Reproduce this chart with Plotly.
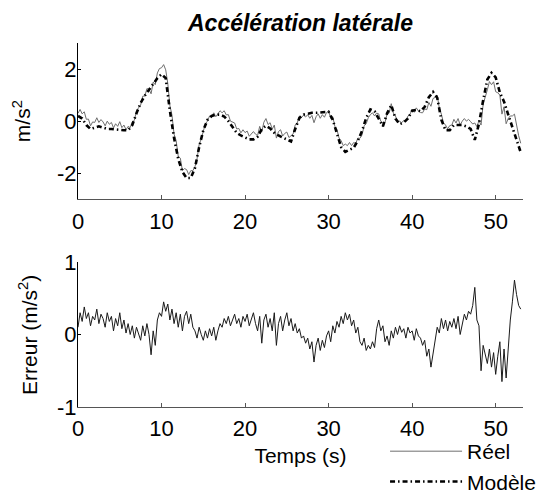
import plotly.graph_objects as go

# ---- data ----
t_model = [i * 0.5 for i in range(107)]
modele = [0.20, 0.10, -0.15, -0.30, -0.25, -0.20, -0.25, -0.30, -0.30, -0.32,
          -0.32, -0.35, -0.35, -0.15, 0.30, 0.70, 0.98, 1.22, 1.45, 1.65,
          1.80, 1.65, 0.40, -0.65, -1.45, -1.95, -2.18, -2.18, -1.80, -1.00,
          -0.35, 0.05, 0.20, 0.25, 0.25, 0.18, 0.00, -0.25, -0.45, -0.55,
          -0.62, -0.70, -0.70, -0.60, -0.30, -0.18, -0.28, -0.45, -0.55, -0.62,
          -0.72, -0.78, -0.30, 0.12, 0.25, 0.30, 0.32, 0.32, 0.33, 0.33,
          0.36, 0.05, -0.50, -1.00, -1.18, -1.10, -1.02, -0.75, -0.38, 0.12,
          0.45, 0.38, 0.08, -0.20, 0.30, 0.62, 0.10, -0.12, -0.05, 0.10,
          0.40, 0.43, 0.38, 0.55, 0.92, 1.12, 0.90, 0.05, -0.35, -0.35,
          -0.15, -0.15, -0.15, -0.20, -0.30, -0.72, -0.10, 0.80, 1.60, 1.85,
          1.68, 1.10, 0.75, 0.25, -0.25, -0.72, -1.20]

t_reel = [i * 0.25 for i in range(213)]
reel = [0.30, 0.45, 0.28, 0.36, 0.07, 0.08, -0.18, -0.03, -0.05, 0.13,
        -0.05, 0.06, -0.03, -0.18, 0.00, -0.12, -0.05, -0.26, -0.10, -0.20,
        -0.02, -0.25, -0.15, -0.33, -0.20, -0.25, -0.03, 0.03, 0.40, 0.52,
        0.62, 0.96, 0.96, 1.25, 1.22, 1.05, 1.50, 1.40, 1.85, 2.02,
        2.05, 2.17, 1.97, 1.44, 0.60, 0.23, -0.50, -0.75, -1.35, -1.42,
        -1.90, -1.82, -1.86, -2.05, -1.90, -1.90, -1.75, -1.45, -0.90, -0.68,
        -0.43, -0.10, 0.00, 0.20, 0.18, 0.32, 0.17, 0.30, 0.40, 0.32,
        0.40, 0.24, 0.25, 0.00, -0.05, -0.07, -0.30, -0.28, -0.45, -0.33,
        -0.44, -0.38, -0.58, -0.48, -0.40, -0.50, -0.55, -0.20, -0.42, -0.04,
        0.10, -0.13, -0.06, -0.31, -0.15, -0.65, -0.40, -0.33, -0.57, -0.47,
        -0.42, -0.63, -0.56, -0.49, -0.15, -0.07, 0.20, 0.14, 0.23, 0.16,
        0.25, 0.11, 0.22, -0.06, 0.17, 0.28, 0.11, 0.25, 0.15, 0.33,
        0.41, 0.10, 0.17, -0.20, -0.32, -0.65, -0.75, -0.94, -0.88, -0.94,
        -0.82, -0.94, -0.82, -0.86, -0.65, -0.66, -0.53, -0.18, -0.10, 0.13,
        0.25, 0.32, 0.20, 0.31, 0.28, -0.01, -0.08, -0.05, 0.28, 0.31,
        0.67, 0.31, 0.20, -0.01, 0.00, -0.06, 0.03, -0.02, 0.20, 0.27,
        0.45, 0.34, 0.51, 0.39, 0.33, 0.32, 0.47, 0.44, 0.72, 0.57,
        0.87, 0.91, 1.00, 0.50, 0.27, -0.07, -0.15, -0.30, -0.17, -0.15,
        0.07, -0.07, 0.10, -0.15, 0.00, 0.10, 0.00, 0.07, -0.02, -0.11,
        -0.07, -0.21, 0.02, -0.15, 0.65, 0.90, 1.20, 1.52, 1.40, 1.51,
        1.13, 1.09, 1.00, 0.27, 0.55, -0.10, 0.10, 0.20, 0.20, 0.27,
        -0.17, -0.56, -0.85]

erreur = [0.10, 0.30, 0.18, 0.38, 0.22, 0.30, 0.12, 0.25, 0.20, 0.35,
          0.15, 0.28, 0.22, 0.10, 0.30, 0.18, 0.25, 0.05, 0.22, 0.12,
          0.30, 0.08, 0.20, 0.02, 0.15, 0.00, 0.12, -0.05, 0.10, 0.02,
          -0.08, 0.12, -0.02, 0.15, 0.00, -0.28, 0.05, -0.15, 0.20, 0.30,
          0.25, 0.45, 0.32, 0.42, 0.20, 0.35, 0.15, 0.30, 0.10, 0.28,
          0.05, 0.25, 0.32, 0.15, 0.28, 0.10, 0.05, -0.05, 0.10, 0.00,
          -0.08, 0.05, -0.05, 0.08, -0.02, 0.10, -0.08, 0.05, 0.15, 0.10,
          0.22, 0.15, 0.25, 0.12, 0.20, 0.28, 0.15, 0.22, 0.10, 0.25,
          0.18, 0.28, 0.12, 0.22, 0.30, 0.15, 0.05, 0.25, -0.12, 0.20,
          0.28, 0.10, 0.22, 0.05, 0.30, -0.15, 0.15, 0.25, 0.05, 0.20,
          0.30, 0.12, 0.22, 0.05, 0.15, 0.02, 0.08, -0.05, -0.02, -0.12,
          -0.05, -0.20, -0.10, -0.38, -0.15, -0.05, -0.22, -0.08, -0.18, -0.02,
          0.05, -0.10, 0.12, 0.02, 0.18, 0.10, 0.25, 0.15, 0.30, 0.20,
          0.28, 0.12, 0.20, 0.02, 0.10, -0.10, -0.15, -0.05, -0.22, -0.15,
          -0.20, -0.10, -0.18, 0.08, 0.20, 0.05, 0.12, -0.10, -0.02, -0.15,
          0.05, -0.05, 0.10, 0.00, 0.12, 0.03, 0.08, -0.05, 0.10, 0.02,
          0.05, -0.08, 0.08, -0.02, -0.05, -0.15, -0.08, -0.30, -0.20, -0.45,
          -0.25, -0.10, 0.10, 0.02, 0.22, 0.08, 0.20, 0.05, 0.18, 0.10,
          0.22, 0.08, 0.25, 0.00, 0.15, 0.28, 0.20, 0.32, 0.28, 0.40,
          0.65, 0.20, 0.12, -0.50, -0.15, -0.30, -0.40, -0.20, -0.45, -0.25,
          -0.55, -0.30, -0.10, -0.65, -0.20, -0.60, -0.15, 0.20, 0.45, 0.75,
          0.55, 0.40, 0.35]

x_tick_vals = [0, 10, 20, 30, 40, 50]
x_tick_text = ["0", "10", "20", "30", "40", "50"]
top_y_tick_vals = [-2, 0, 2]
top_y_tick_text = ["-2", "0", "2"]
bot_y_tick_vals = [-1, 0, 1]
bot_y_tick_text = ["-1", "0", "1"]

FONT = "Liberation Sans, Arial, sans-serif"
TICK_SIZE = 22

fig = go.Figure()
fig.add_trace(go.Scatter(x=t_reel, y=reel, mode="lines", name="Réel",
                         line=dict(color="#6e6e6e", width=1),
                         xaxis="x", yaxis="y", legendgroup="a"))
fig.add_trace(go.Scatter(x=t_model, y=modele, mode="lines", name="Modèle",
                         line=dict(color="#000000", width=2.6, dash="5px,3px,1.5px,3px"),
                         xaxis="x", yaxis="y", legendgroup="b"))
fig.add_trace(go.Scatter(x=t_reel, y=erreur, mode="lines", showlegend=False,
                         line=dict(color="#1a1a1a", width=1),
                         xaxis="x2", yaxis="y2"))

axis_common = dict(
    range=[0, 53.27], tickvals=x_tick_vals, ticktext=x_tick_text,
    ticks="inside", ticklen=4, tickcolor="#555555", showline=True,
    linecolor="#555555", linewidth=1, showgrid=False, zeroline=False,
    tickfont=dict(family=FONT, size=TICK_SIZE, color="black"), ticklabelstandoff=2,
)
yaxis_common = dict(
    ticks="inside", ticklen=3, tickcolor="black", showline=True,
    linecolor="black", linewidth=1, showgrid=False, zeroline=False,
    tickfont=dict(family=FONT, size=TICK_SIZE, color="black"), ticklabelstandoff=-4,
)

fig.update_layout(
    width=536, height=494,
    paper_bgcolor="white", plot_bgcolor="white",
    margin=dict(l=78, r=13, t=43, b=87, autoexpand=False),
    title=dict(text="<b><i>Accélération latérale</i></b>", x=0.5, xref="paper",
               y=1 - 23 / 494, yanchor="middle",
               font=dict(family=FONT, size=23, color="black")),
    xaxis=dict(domain=[0, 1], anchor="y", **axis_common),
    xaxis2=dict(domain=[0, 1], anchor="y2", title=dict(text="Temps (s)", standoff=7,
                font=dict(family=FONT, size=21, color="black")), **axis_common),
    yaxis=dict(domain=[0.5706, 1], anchor="x", range=[-3, 3],
               tickvals=top_y_tick_vals, ticktext=top_y_tick_text, **yaxis_common),
    yaxis2=dict(domain=[0, 0.3984], anchor="x2", range=[-1, 1],
                tickvals=bot_y_tick_vals, ticktext=bot_y_tick_text, **yaxis_common),
    legend=dict(x=0.69, xanchor="left", y=-0.066, yanchor="top",
                bgcolor="rgba(0,0,0,0)", itemwidth=72, tracegroupgap=0,
                font=dict(family=FONT, size=21, color="black")),
    annotations=[
        dict(text="m/s<sup>2</sup>", xref="paper", yref="paper", x=-0.126, y=0.785,
             xanchor="center", yanchor="middle", textangle=-90, showarrow=False,
             font=dict(family=FONT, size=21, color="black")),
        dict(text="Erreur (m/s<sup>2</sup>)", xref="paper", yref="paper", x=-0.1124, y=0.198,
             xanchor="center", yanchor="middle", textangle=-90, showarrow=False,
             font=dict(family=FONT, size=21, color="black")),
    ],
)

fig.write_html("out.html", config={"displayModeBar": False},
               post_script="document.body.style.margin='0px';")
